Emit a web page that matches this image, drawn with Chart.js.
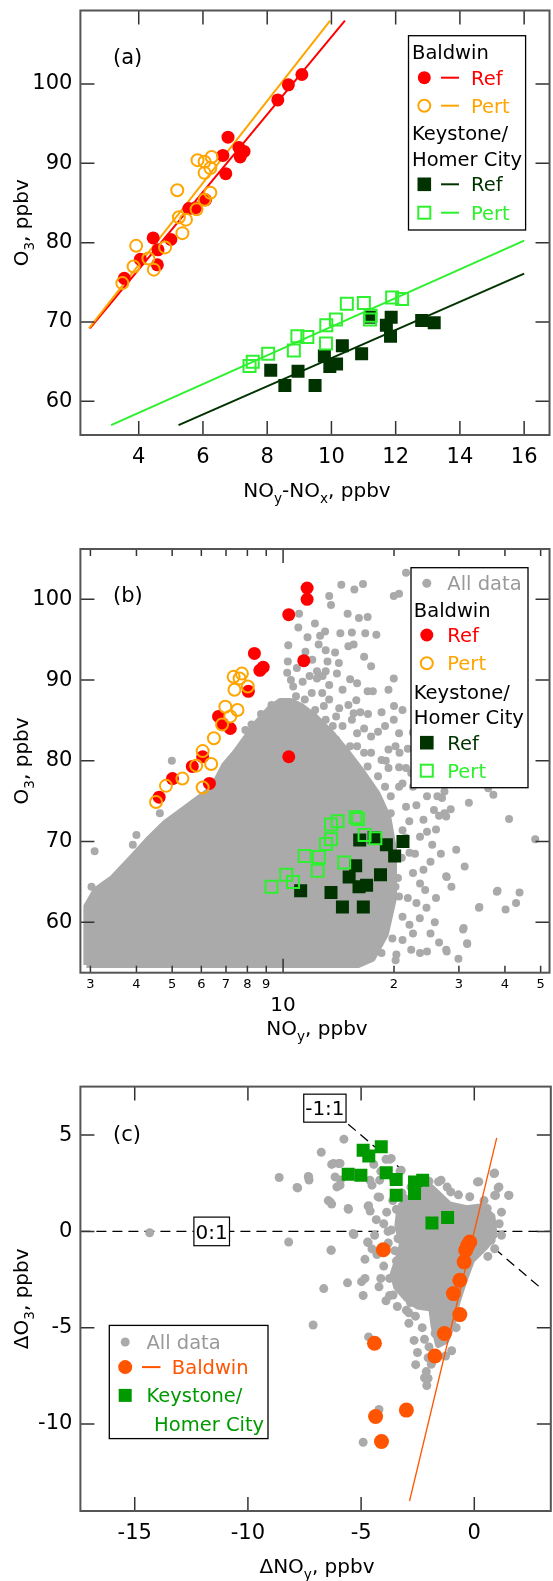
<!DOCTYPE html>
<html><head><meta charset="utf-8"><title>O3 vs NOy</title>
<script src="https://cdn.jsdelivr.net/npm/chart.js@4.4.1/dist/chart.umd.min.js"></script>
<style>
html,body{margin:0;padding:0;background:#fff;}
body{width:553px;height:1581px;overflow:hidden;position:relative;}
canvas{position:absolute;left:0;}
</style></head>
<body>
<canvas id="ca" width="560" height="520" style="top:0px"></canvas>
<canvas id="cb" width="560" height="535" style="top:520px"></canvas>
<canvas id="cc" width="560" height="541" style="top:1040px"></canvas>
<script>
// ================= DATA =================
// Panel (a): O3 vs NOy-NOx
const aXTicks = [4, 6, 8, 10, 12, 14, 16];
const aXTickLabels = ['4', '6', '8', '10', '12', '14', '16'];
const aYTicks = [60, 70, 80, 90, 100];
const aYTickLabels = ['60', '70', '80', '90', '100'];
const aBaldwinRef = [[3.55,75.5],[4.05,77.9],[4.45,80.6],[4.60,79.1],[4.58,77.2],[5.00,80.4],[5.56,84.3],[5.77,84.4],[6.08,85.4],[6.62,91.0],[6.78,93.3],[6.71,88.7],[7.12,92.0],[7.16,90.8],[7.28,91.5],[8.33,98.0],[8.66,99.9],[9.08,101.2]];
const aBaldwinPert = [[3.49,74.9],[3.84,77.0],[3.92,79.6],[4.30,78.0],[4.47,76.6],[4.82,79.4],[5.25,83.2],[5.36,81.2],[5.47,82.9],[5.20,86.6],[5.80,84.2],[6.05,85.4],[6.23,86.3],[5.83,90.4],[6.05,90.2],[6.27,90.8],[6.05,88.8],[6.23,89.4]];
const aKeyRef = [[8.11,63.9],[8.55,62.0],[8.96,63.8],[9.49,62.0],[9.78,65.7],[9.95,64.4],[10.16,64.7],[10.34,67.0],[10.94,66.0],[11.22,70.6],[11.71,69.6],[11.86,70.6],[11.84,68.2],[12.81,70.2],[13.2,69.9]];
const aKeyPert = [[7.45,64.45],[7.55,65.0],[8.03,66.0],[8.83,66.4],[8.94,68.2],[9.25,68.1],[9.84,69.6],[10.14,70.3],[9.83,67.3],[10.48,72.3],[11.01,72.4],[11.22,70.8],[11.2,70.3],[11.89,73.1],[12.2,72.9]];
const aFitBaldwinRef = [[2.48,69.2],[10.42,108.0]];
const aFitBaldwinPert = [[2.45,69.2],[9.96,108.0]];
const aFitKeyRef = [[5.24,57.0],[16.0,76.1]];
const aFitKeyPert = [[3.14,57.0],[16.0,80.25]];

// Panel (b): O3 vs NOy (log axis)
const bXTicks = [3, 4, 5, 6, 7, 8, 9, 10, 20, 30, 40, 50];
const bXTickLabels = ['3','4','5','6','7','8','9','','2','3','4','5'];
const bYTicks = [60, 70, 80, 90, 100];
const bYTickLabels = ['60', '70', '80', '90', '100'];
const bBaldwinRef = [[4.61,75.5],[5.01,77.8],[5.67,79.3],[6.05,80.5],[6.31,77.2],[6.68,85.5],[7.19,84.0],[6.85,84.6],[8.05,88.6],[8.36,93.3],[8.65,91.2],[8.83,91.6],[10.36,98.1],[10.36,80.5],[11.38,92.4],[11.62,101.4],[11.62,100.0]];
const bBaldwinPert = [[4.52,74.9],[4.81,76.9],[5.33,77.8],[5.81,79.4],[6.05,81.2],[6.38,79.6],[6.05,76.7],[6.49,82.8],[6.83,84.5],[6.97,86.7],[7.19,85.5],[7.52,86.3],[7.38,88.8],[7.34,90.4],[7.62,90.2],[7.73,90.8],[8.02,89.2]];
const bKeyRef = [[11.16,63.9],[13.49,63.7],[14.49,61.9],[16.51,61.9],[15.11,65.6],[15.74,67.0],[16.07,64.4],[16.85,64.6],[18.38,65.9],[16.14,70.2],[17.66,70.5],[19.07,69.6],[20.08,68.2],[21.15,70.0]];
const bKeyPert = [[9.30,64.4],[10.2,65.9],[10.64,65.0],[11.44,68.2],[12.41,66.4],[12.5,68.1],[13.07,69.7],[13.49,70.3],[13.49,72.1],[14.06,72.5],[14.65,67.4],[15.74,73.0],[15.97,72.8],[16.64,70.8],[17.8,70.4]];
// outline of the densely packed part of "All data" (solid grey area)
const bAllCore = [[2.925,54.7],[2.925,62.0],[3.1,64.0],[3.445,65.5],[3.843,67.8],[4.29,70.2],[4.78,72.3],[5.33,73.9],[5.82,75.2],[6.42,76.6],[6.93,79.5],[7.40,81.0],[7.90,82.8],[8.43,84.6],[9.20,86.5],[9.82,87.4],[10.49,87.4],[11.2,86.8],[12.2,85.5],[13.5,83.5],[15.0,81.0],[16.5,78.5],[18.0,76.0],[19.3,73.0],[20.0,69.0],[20.0,63.0],[19.0,58.5],[17.5,55.5],[16.0,54.7],[2.925,54.7]];
// individual "All data" points outside / at the edge of the solid area
const bAllData = [[13.34,100.4],[13.49,99.3],[14.39,101.8],[15.61,101.2],[16.48,101.9],[14.97,98.2],[16.06,97.7],[16.96,97.8],[15.37,95.9],[16.71,95.8],[17.91,95.6],[11.65,95.3],[10.33,94.3],[10.3,92.3],[11.05,98.2],[12.49,94.4],[13.05,93.7],[13.84,93.4],[15.04,94.2],[15.54,94.4],[14.17,92.1],[16.59,92.9],[17.33,91.7],[15.20,90.1],[15.88,89.6],[12.36,91.1],[13.05,91.1],[12.36,90.2],[13.34,89.4],[11.96,88.4],[12.77,88.4],[13.34,87.6],[16.96,88.6],[17.52,88.6],[19.32,88.8],[19.97,90.2],[19.97,100.4],[20.64,100.7],[21.56,103.3],[10.26,90.9],[11.45,87.6],[15.04,86.9],[15.54,85.9],[15.37,85.1],[16.59,84.0],[18.10,83.6],[18.91,84.3],[19.97,85.1],[20.64,83.4],[21.09,86.3],[20.19,81.8],[19.32,79.1],[16.59,81.0],[15.88,81.8],[17.33,81.0],[18.50,80.1],[20.64,79.2],[21.56,79.1],[22.27,78.5],[21.09,77.2],[22.52,76.8],[24.58,75.6],[26.23,75.6],[27.41,76.2],[27.71,73.1],[25.67,73.9],[24.04,72.7],[21.56,74.3],[23.53,70.6],[24.58,71.2],[25.39,69.6],[25.12,67.5],[24.04,66.5],[22.52,66.1],[23.53,64.8],[24.30,64.0],[23.01,62.4],[20.64,63.2],[21.09,60.7],[22.03,59.7],[22.52,58.6],[21.09,57.8],[22.27,56.6],[23.53,56.2],[24.58,56.4],[25.12,58.6],[27.71,65.7],[28.63,64.4],[27.71,56.6],[29.91,55.5],[31.59,57.4],[30.90,59.3],[31.1,66.9],[34.10,61.9],[38.02,63.8],[40.16,61.6],[42.88,62.4],[43.82,63.7],[41.04,72.8],[37.21,75.8],[36.02,76.6],[31.93,74.8],[48.33,70.3],[27.41,73.5],[15.37,60.3],[16.3,58.2],[17.33,56.2],[15.20,55.3],[14.5,55.3],[17.33,61.9],[18.91,61.1],[18.50,58.6],[16.59,59.5],[3.08,68.8],[3.02,64.4],[4.99,80.0],[3.91,69.6],[4.00,70.8],[4.63,73.5],[7.90,83.8],[8.21,84.5],[8.71,85.8],[9.30,86.9],[9.82,84.7],[10.65,89.2],[10.84,88.0],[18.91,76.8],[18.1,74.8],[19.6,73.5],[18.91,70.6],[21.09,71.4],[19.6,66.5],[22.03,68.6],[20.19,64.4],[18.5,56.2],[20.2,55.3],[13.93,82.6],[14.5,81.0],[15.2,79.3],[13.64,84.3],[16.3,78.5],[17.33,76.8],[18.1,72.7],[18.9,68.6],[18.5,65.2],[17.3,63.2],[15.2,57.8],[14.5,56.6],[15.5,56.2],[12.22,86.3],[13.05,85.1],[13.93,85.5],[14.5,84.3],[15.88,83.4],[15.2,81.8],[17.33,83.0],[16.96,79.3],[18.1,78.1],[19.32,81.4],[20.64,76.8],[19.6,75.6],[27.0,75.4],[26.5,73.2],[34.0,61.8],[38.2,63.9],[30.8,59.1],[27.8,56.4],[31.6,57.3],[27.8,65.6],[21.0,68.0],[21.5,70.5],[22.0,72.5],[20.5,65.5],[21.8,63.0],[20.3,56.0],[19.8,58.0],[22.8,68.5],[23.0,74.5],[20.7,81.0],[19.0,80.0],[21.8,81.5],[23.0,79.5],[24.8,77.8],[26.0,71.5],[26.8,68.5],[23.5,60.5],[24.5,61.8],[26.0,63.0],[25.8,60.0],[26.5,57.5],[20.0,86.8],[18.5,86.0],[17.0,85.8],[22.5,83.5],[24.5,82.3],[25.5,80.0],[28.5,74.0],[29.5,69.0],[10.5,90.0],[10.9,91.5],[11.3,89.8],[11.8,90.5],[12.0,92.5],[11.5,93.5],[12.8,90.5],[13.2,92.3],[14.0,90.8],[14.5,88.8],[12.9,86.8],[14.2,86.5],[15.8,87.5],[16.2,86.0],[11.0,96.5],[12.2,97.0],[13.0,96.0],[14.3,95.8],[12.6,95.5]];

// Panel (c): delta O3 vs delta NOy
const cXTicks = [-15, -10, -5, 0];
const cXTickLabels = ['-15', '-10', '-5', '0'];
const cYTicks = [-10, -5, 0, 5];
const cYTickLabels = ['-10', '-5', '0', '5'];
const cBaldwin = [[-0.20,-0.55],[-0.38,-0.98],[-0.45,-1.58],[-0.64,-2.54],[-0.92,-3.23],[-0.64,-4.32],[-1.32,-5.30],[-1.74,-6.47],[-4.02,-0.95],[-4.41,-5.81],[-3.0,-9.28],[-4.36,-9.61],[-4.10,-10.91],[-0.3,-0.75]];
const cKeystone = [[-4.91,4.22],[-4.66,3.91],[-4.11,4.39],[-5.57,2.97],[-5.01,2.92],[-3.89,3.04],[-3.45,2.70],[-3.45,1.88],[-2.64,2.57],[-2.28,2.66],[-2.64,1.97],[-1.87,0.44],[-1.18,0.72]];
const cFitBaldwin = [[-2.86,-14.0],[0.99,4.86]];
const cLineZero = [[-17.4,0],[3.4,0]];
const cLineMinusOne = [[-5.57,5.57],[3.0,-3.0]];
const cAllCore = [[-3.3,1.3],[-2.6,2.0],[-1.9,2.3],[-1.1,1.4],[-0.34,1.2],[0.28,1.3],[0.8,0.8],[0.9,-0.2],[0.5,-0.8],[-0.1,-1.5],[-0.45,-2.6],[-0.75,-3.7],[-0.95,-4.8],[-1.25,-5.7],[-1.6,-5.9],[-1.8,-4.9],[-1.9,-4.0],[-2.5,-3.9],[-3.0,-3.5],[-3.45,-2.9],[-3.6,-2.2],[-3.4,-1.5],[-3.2,-0.7],[-3.4,0.3],[-3.3,1.3]];
const cAllData = [[-14.34,-0.07],[-8.20,-0.55],[-8.62,2.80],[-7.80,2.26],[-7.33,2.85],[-7.30,2.67],[-6.76,4.11],[-6.33,-0.97],[-6.65,-2.97],[-5.76,4.79],[-6.30,3.48],[-5.99,3.52],[-6.07,2.31],[-5.91,2.67],[-6.45,1.60],[-6.30,1.42],[-5.56,1.15],[-5.60,-2.67],[-5.32,-0.16],[-4.98,-2.61],[-4.83,-1.45],[-4.71,-0.55],[-4.83,-2.44],[-4.91,-3.33],[-4.67,-5.48],[-4.91,-10.95],[-4.21,-9.25],[-4.67,1.33],[-4.60,1.06],[-4.33,0.61],[-4.18,1.78],[-4.52,2.40],[-4.44,3.48],[-4.13,3.12],[-3.90,3.75],[-3.74,3.75],[-3.67,0.07],[-3.87,1.00],[-3.44,1.15],[-3.28,3.12],[-3.56,2.67],[-4.52,-0.91],[-4.13,-2.44],[-4.21,-2.88],[-3.59,-3.30],[-3.05,-2.44],[-2.97,-1.00],[-2.82,-1.54],[-2.89,-4.23],[-2.89,-4.77],[-2.66,-5.66],[-2.51,-6.29],[-2.59,-6.92],[-2.04,-6.56],[-2.12,-7.28],[-2.04,-7.63],[-1.73,-5.30],[-1.27,-6.47],[-1.58,2.58],[-1.04,2.05],[-1.50,1.69],[-1.81,1.51],[-1.50,1.33],[0.20,2.58],[0.90,3.03],[1.05,2.26],[0.90,1.87],[1.52,1.87],[0.43,1.60],[0.66,0.52],[0.43,0.97],[0.05,0.25],[0.74,-0.46],[0.28,-0.46],[-1.50,-3.42],[-1.50,-3.87],[-1.73,-4.41],[-1.19,-4.59],[-1.43,-5.12],[-3.74,-3.33],[-2.82,-3.69],[-3.13,-2.79],[-3.44,-1.54],[-3.74,-2.44],[-3.28,-2.61],[-2.97,-1.72],[-2.35,-2.61],[-1.89,-2.97],[-1.58,-2.61],[-1.27,-1.90],[-3.13,-1.18],[-3.51,-1.00],[-7.12,-4.86],[-6.22,3.53],[-5.93,3.53],[-7.32,2.83],[-7.83,2.28],[-6.15,2.83],[-5.93,2.40],[-4.61,2.66],[-4.18,2.66],[-3.67,3.79],[-3.23,3.18],[-3.08,1.71],[-4.25,1.79],[-4.69,1.31],[-5.57,1.19],[-6.37,1.53],[-5.35,-0.11],[-6.32,-0.98],[-4.69,-0.58],[-3.81,0.0],[-3.37,-0.37],[-3.01,-0.98],[-1.47,2.66],[0.14,2.57],[0.87,3.01],[1.09,2.31],[1.53,1.88],[0.94,1.88],[0.57,1.19],[0.72,0.49],[0.43,-0.11],[0.43,-0.63],[-4.3,-1.2],[-4.0,-1.8],[-3.8,-0.6],[-4.0,0.4],[-4.4,-0.2],[-3.9,-3.6],[-3.4,-3.9],[-3.0,-4.1],[-2.6,-4.4],[-2.3,-5.0],[-2.2,-5.6],[-2.0,-6.0],[-1.9,-6.9],[-2.2,-7.6],[-2.1,-8.0],[-0.8,-5.0],[-0.6,-4.2],[-1.0,-6.2],[1.2,1.0],[1.1,0.4],[1.2,-0.2],[0.9,-0.9],[0.6,-1.3],[-0.2,1.8],[-0.7,1.9],[-1.2,2.3],[-2.0,2.6],[-2.8,2.3],[-3.2,2.0],[-3.6,1.6]];

// ================= STYLE =================
const FAM = '"DejaVu Sans", sans-serif';
const RED = '#ff0000', ORANGE = '#ffa500', DKGREEN = '#003300', GREEN = '#2ef02e';
const ORED = '#ff5500', MGREEN = '#009900', GRAY = '#aaaaaa';
const W = 560, RIGHT = 554, LEFT = 80.4;
const fnt = s => s + 'px ' + FAM;
const P = arr => arr.map(p => ({x: p[0], y: p[1]}));

function dots(arr, color, r) {
  return {data: P(arr), pointStyle: 'circle', pointRadius: r, pointHoverRadius: r, backgroundColor: color, borderColor: color, borderWidth: 0};
}
function rings(arr, color, r) {
  return {data: P(arr), pointStyle: 'circle', pointRadius: r, pointHoverRadius: r, backgroundColor: 'rgba(0,0,0,0)', borderColor: color, borderWidth: 2};
}
function squares(arr, color, side) {
  const r = side / Math.SQRT2;
  return {data: P(arr), pointStyle: 'rect', pointRadius: r, pointHoverRadius: r, backgroundColor: color, borderColor: color, borderWidth: 0};
}
function osquares(arr, color, side) {
  const r = side / Math.SQRT2;
  return {data: P(arr), pointStyle: 'rect', pointRadius: r, pointHoverRadius: r, backgroundColor: 'rgba(0,0,0,0)', borderColor: color, borderWidth: 2};
}
function line(arr, color, w, dash) {
  return {data: P(arr), showLine: true, pointRadius: 0, pointHoverRadius: 0, borderColor: color, borderWidth: w, borderDash: dash || [], fill: false, tension: 0};
}
function area(arr, color) {
  return {data: P(arr), showLine: true, pointRadius: 0, pointHoverRadius: 0, borderColor: color, borderWidth: 6, borderJoinStyle: 'round', backgroundColor: color, fill: 'shape', tension: 0};
}
// bottom-to-top list -> order
function stack(list) { return list.map((d, i) => Object.assign(d, {order: list.length - i})); }

// ================= DRAW HELPERS =================
function drawRich(ctx, parts, cx, cy, size, color, rot) {
  ctx.save();
  ctx.translate(cx, cy);
  if (rot) ctx.rotate(-Math.PI / 2);
  let w = 0;
  const ms = parts.map(p => { ctx.font = fnt(p.s ? size * 0.68 : size); const m = ctx.measureText(p.t).width; w += m; return m; });
  let x = -w / 2;
  ctx.fillStyle = color; ctx.textAlign = 'left'; ctx.textBaseline = 'alphabetic';
  const base = size * 0.36;
  parts.forEach((p, i) => { ctx.font = fnt(p.s ? size * 0.68 : size); ctx.fillText(p.t, x, base + (p.s ? size * 0.3 : 0)); x += ms[i]; });
  ctx.restore();
}
function marker(ctx, type, x, y, color, r) {
  ctx.save();
  ctx.fillStyle = color; ctx.strokeStyle = color; ctx.lineWidth = 2;
  ctx.beginPath();
  if (type === 'dot') { ctx.arc(x, y, r, 0, 2 * Math.PI); ctx.fill(); }
  else if (type === 'ring') { ctx.arc(x, y, r, 0, 2 * Math.PI); ctx.stroke(); }
  else if (type === 'sq') { ctx.fillRect(x - r, y - r, 2 * r, 2 * r); }
  else if (type === 'osq') { ctx.strokeRect(x - r, y - r, 2 * r, 2 * r); }
  ctx.restore();
}
function drawLegend(ctx, L) {
  const b = L.box;
  ctx.save();
  ctx.fillStyle = '#fff'; ctx.fillRect(b[0], b[1], b[2] - b[0], b[3] - b[1]);
  ctx.strokeStyle = '#000'; ctx.lineWidth = 1.3; ctx.strokeRect(b[0], b[1], b[2] - b[0], b[3] - b[1]);
  L.items.forEach(it => {
    if (it.m) marker(ctx, it.m, it.mx, it.y, it.mc, it.r);
    if (it.l) { ctx.strokeStyle = it.mc; ctx.lineWidth = 2; ctx.beginPath(); ctx.moveTo(it.l[0], it.y); ctx.lineTo(it.l[1], it.y); ctx.stroke(); }
    ctx.font = fnt(L.size); ctx.fillStyle = it.c || '#000'; ctx.textAlign = 'left'; ctx.textBaseline = 'alphabetic';
    ctx.fillText(it.t, it.x, it.y + L.size * 0.36);
  });
  ctx.restore();
}
function boxText(ctx, text, cx, cy, w, h, size) {
  ctx.save();
  ctx.fillStyle = '#fff'; ctx.fillRect(cx - w / 2, cy - h / 2, w, h);
  ctx.strokeStyle = '#000'; ctx.lineWidth = 1.2; ctx.strokeRect(cx - w / 2, cy - h / 2, w, h);
  ctx.font = fnt(size); ctx.fillStyle = '#000'; ctx.textAlign = 'center'; ctx.textBaseline = 'alphabetic';
  ctx.fillText(text, cx, cy + size * 0.36);
  ctx.restore();
}

const DECO = {};
const decoPlugin = {
  id: 'deco',
  afterDatasetsDraw(chart) {
    const d = DECO[chart.canvas.id];
    const ctx = chart.ctx, a = chart.chartArea, xs = chart.scales.x, ys = chart.scales.y;
    ctx.save();
    if (d.extra) d.extra(ctx, chart);
    ctx.strokeStyle = '#333'; ctx.lineWidth = 1.5;
    ctx.beginPath();
    d.xTicks.forEach(v => {
      const px = xs.getPixelForValue(v), len = d.xLen(v);
      ctx.moveTo(px, a.bottom); ctx.lineTo(px, a.bottom - len);
      ctx.moveTo(px, a.top); ctx.lineTo(px, a.top + len);
    });
    d.yTicks.forEach(v => {
      const py = ys.getPixelForValue(v);
      ctx.moveTo(a.left, py); ctx.lineTo(a.left + 14, py);
      ctx.moveTo(a.right, py); ctx.lineTo(a.right - 14, py);
    });
    ctx.stroke();
    ctx.strokeStyle = '#555'; ctx.lineWidth = 2;
    ctx.strokeRect(a.left, a.top, a.right - a.left, a.bottom - a.top);
    ctx.font = fnt(21); ctx.fillStyle = '#000'; ctx.textAlign = 'left'; ctx.textBaseline = 'alphabetic';
    ctx.fillText(d.panel[0], d.panel[1], d.panel[2] + 21 * 0.36);
    drawRich(ctx, d.xTitle.parts, d.xTitle.x, d.xTitle.y, 20, '#000', false);
    drawRich(ctx, d.yTitle.parts, d.yTitle.x, d.yTitle.y, 20, '#000', true);
    drawLegend(ctx, d.legend);
    ctx.restore();
  }
};

function makeChart(id, H, o) {
  DECO[id] = o.deco;
  return new Chart(document.getElementById(id), {
    type: 'scatter',
    data: {datasets: o.datasets},
    options: {
      responsive: false, animation: false, events: [],
      layout: {padding: {left: 0, right: W - RIGHT, top: o.top, bottom: 0}},
      plugins: {legend: {display: false}, tooltip: {enabled: false}, title: {display: false}},
      scales: {
        x: {
          type: o.xType || 'linear', min: o.xMin, max: o.xMax,
          grid: {display: false, drawTicks: false}, border: {display: false},
          ticks: {autoSkip: false, maxRotation: 0, minRotation: 0, padding: o.xPad, color: '#000',
                  font: {family: FAM, size: o.xFont}, callback: (v, i) => o.xLabels[i]},
          afterBuildTicks: s => { s.ticks = o.xTicks.map(v => ({value: v})); },
          afterFit: s => { s.height = H - o.bottom; s.paddingLeft = 0; s.paddingRight = 0; }
        },
        y: {
          type: 'linear', min: o.yMin, max: o.yMax,
          grid: {display: false, drawTicks: false}, border: {display: false},
          ticks: {autoSkip: false, padding: 8, color: '#000', font: {family: FAM, size: 21},
                  callback: (v, i) => o.yLabels[i]},
          afterBuildTicks: s => { s.ticks = o.yTicks.map(v => ({value: v})); },
          afterFit: s => { s.width = LEFT; s.paddingTop = 0; s.paddingBottom = 0; }
        }
      }
    },
    plugins: [decoPlugin]
  });
}

// ================= PANEL (a) =================
makeChart('ca', 520, {
  top: 10.5, bottom: 435, xMin: 2.184, xMax: 16.79, yMin: 55.75, yMax: 109.27,
  xTicks: aXTicks, xLabels: aXTickLabels, yTicks: aYTicks, yLabels: aYTickLabels, xPad: 10, xFont: 21,
  datasets: stack([
    line(aFitKeyRef, DKGREEN, 2), line(aFitKeyPert, GREEN, 2),
    line(aFitBaldwinRef, RED, 2), line(aFitBaldwinPert, ORANGE, 2),
    dots(aBaldwinRef, RED, 6.5), rings(aBaldwinPert, ORANGE, 6),
    squares(aKeyRef, DKGREEN, 13), osquares(aKeyPert, GREEN, 12)
  ]),
  deco: {
    xTicks: aXTicks, yTicks: aYTicks, xLen: () => 14,
    panel: ['(a)', 113, 56.7],
    xTitle: {parts: [{t: 'NO'}, {t: 'y', s: 1}, {t: '-NO'}, {t: 'x', s: 1}, {t: ', ppbv'}], x: 317, y: 490},
    yTitle: {parts: [{t: 'O'}, {t: '3', s: 1}, {t: ', ppbv'}], x: 21, y: 222.8},
    legend: {size: 19.5, box: [408.5, 35.7, 525.6, 230], items: [
      {t: 'Baldwin', x: 412, y: 52.3},
      {m: 'dot', mc: RED, mx: 424.3, r: 6.5, l: [441, 459], t: 'Ref', x: 471, y: 77.7, c: RED},
      {m: 'ring', mc: ORANGE, mx: 424.3, r: 6, l: [441, 459], t: 'Pert', x: 471, y: 105.7, c: ORANGE},
      {t: 'Keystone/', x: 412, y: 133.3},
      {t: 'Homer City', x: 412, y: 159.3},
      {m: 'sq', mc: DKGREEN, mx: 424.3, r: 6.8, l: [441, 459], t: 'Ref', x: 471, y: 184.3, c: DKGREEN},
      {m: 'osq', mc: GREEN, mx: 424.3, r: 6, l: [441, 459], t: 'Pert', x: 471, y: 212.7, c: GREEN}
    ]}
  }
});

// ================= PANEL (b) =================
makeChart('cb', 535, {
  top: 29, bottom: 452.7, xType: 'logarithmic', xMin: 2.818, xMax: 52.85, yMin: 53.76, yMax: 106.23,
  xTicks: bXTicks, xLabels: bXTickLabels, yTicks: bYTicks, yLabels: bYTickLabels, xPad: 4.5, xFont: 13,
  datasets: stack([
    area(bAllCore, GRAY), dots(bAllData, GRAY, 4),
    dots(bBaldwinRef, RED, 6.5), rings(bBaldwinPert, ORANGE, 6),
    squares(bKeyRef, DKGREEN, 13), osquares(bKeyPert, GREEN, 12)
  ]),
  deco: {
    xTicks: bXTicks, yTicks: bYTicks, xLen: v => (v === 10 ? 14 : 7),
    panel: ['(b)', 113, 74],
    xTitle: {parts: [{t: 'NO'}, {t: 'y', s: 1}, {t: ', ppbv'}], x: 317, y: 508},
    yTitle: {parts: [{t: 'O'}, {t: '3', s: 1}, {t: ', ppbv'}], x: 21, y: 240.9},
    extra: (ctx, chart) => {
      ctx.font = fnt(20); ctx.fillStyle = '#000'; ctx.textAlign = 'center'; ctx.textBaseline = 'alphabetic';
      ctx.fillText('10', chart.scales.x.getPixelForValue(10), 483.3 + 20 * 0.36);
    },
    legend: {size: 19.5, box: [411, 47.7, 528, 267.7], items: [
      {m: 'dot', mc: GRAY, mx: 426.8, r: 4.5, t: 'All data', x: 447.3, y: 63.3, c: '#999999'},
      {t: 'Baldwin', x: 413.8, y: 90},
      {m: 'dot', mc: RED, mx: 426.8, r: 6.5, t: 'Ref', x: 447.3, y: 115, c: RED},
      {m: 'ring', mc: ORANGE, mx: 426.8, r: 6, t: 'Pert', x: 447.3, y: 143.3, c: ORANGE},
      {t: 'Keystone/', x: 413.8, y: 171.7},
      {t: 'Homer City', x: 413.8, y: 197.3},
      {m: 'sq', mc: DKGREEN, mx: 426.8, r: 6.8, t: 'Ref', x: 447.3, y: 222.7, c: DKGREEN},
      {m: 'osq', mc: GREEN, mx: 426.8, r: 6, t: 'Pert', x: 447.3, y: 250.7, c: GREEN}
    ]}
  }
});

// ================= PANEL (c) =================
makeChart('cc', 541, {
  top: 46.6, bottom: 471, xMin: -17.40, xMax: 3.38, yMin: -14.52, yMax: 7.52,
  xTicks: cXTicks, xLabels: cXTickLabels, yTicks: cYTicks, yLabels: cYTickLabels, xPad: 10, xFont: 21,
  datasets: stack([
    line(cLineZero, '#000', 1.3, [10, 6]), line(cLineMinusOne, '#000', 1.3, [10, 6]),
    area(cAllCore, GRAY), dots(cAllData, GRAY, 4.5),
    line(cFitBaldwin, ORED, 1.3),
    dots(cBaldwin, ORED, 7.5), squares(cKeystone, MGREEN, 13)
  ]),
  deco: {
    xTicks: cXTicks, yTicks: cYTicks, xLen: () => 14,
    panel: ['(c)', 113, 93.2],
    xTitle: {parts: [{t: '\u0394NO'}, {t: 'y', s: 1}, {t: ', ppbv'}], x: 317, y: 526},
    yTitle: {parts: [{t: '\u0394O'}, {t: '3', s: 1}, {t: ', ppbv'}], x: 21, y: 258.8},
    extra: (ctx, chart) => {
      const xs = chart.scales.x, ys = chart.scales.y;
      boxText(ctx, '0:1', xs.getPixelForValue(-11.6), ys.getPixelForValue(0), 35.6, 28.6, 20);
      boxText(ctx, '-1:1', xs.getPixelForValue(-6.6), ys.getPixelForValue(6.4), 42.3, 28, 20);
    },
    legend: {size: 19.5, box: [109.3, 285.4, 268, 398.6], items: [
      {m: 'dot', mc: GRAY, mx: 125.2, r: 4.5, t: 'All data', x: 146.4, y: 302, c: '#999999'},
      {m: 'dot', mc: ORED, mx: 125.2, r: 7, l: [142, 160.5], t: 'Baldwin', x: 171.8, y: 327.1, c: ORED},
      {m: 'sq', mc: MGREEN, mx: 125.2, r: 6.5, t: 'Keystone/', x: 146.4, y: 355.4, c: MGREEN},
      {t: 'Homer City', x: 154.1, y: 383.7, c: MGREEN}
    ]}
  }
});
</script>
</body></html>
